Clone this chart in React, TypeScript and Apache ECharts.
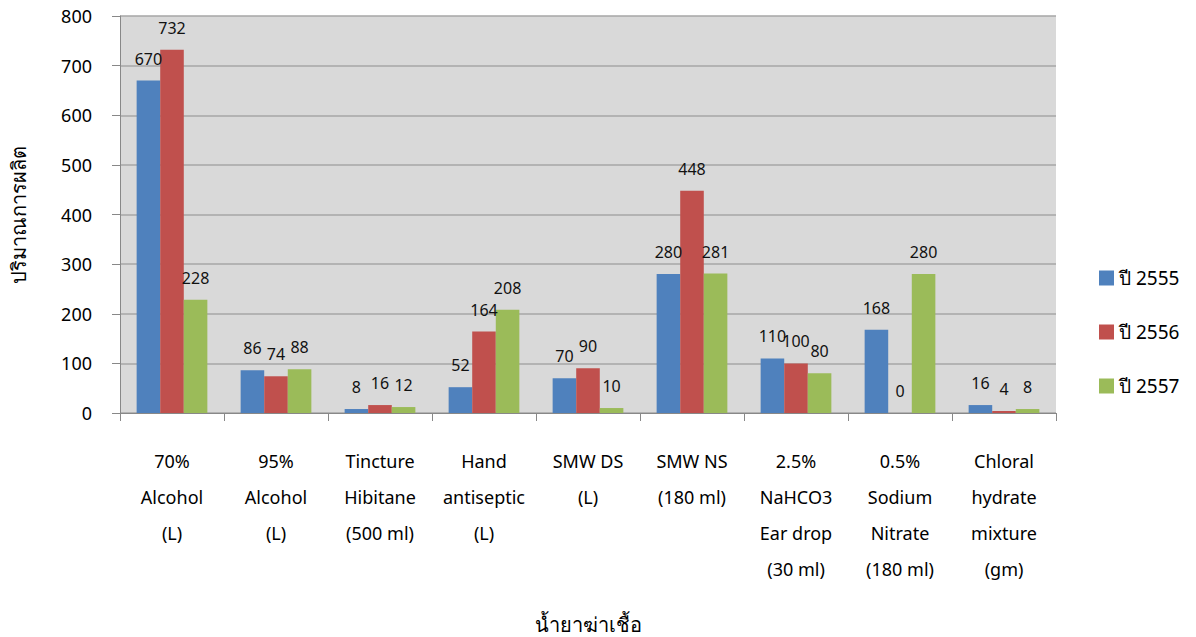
import React, { useEffect, useRef } from "react";
import * as echarts from "echarts";

const categories = [
  "70%\nAlcohol\n(L)",
  "95%\nAlcohol\n(L)",
  "Tincture\nHibitane\n(500 ml)",
  "Hand\nantiseptic\n(L)",
  "SMW DS\n(L)",
  "SMW NS\n(180 ml)",
  "2.5%\nNaHCO3\nEar drop\n(30 ml)",
  "0.5%\nSodium\nNitrate\n(180 ml)",
  "Chloral\nhydrate\nmixture\n(gm)",
];
const seriesNames = ["ปี 2555", "ปี 2556", "ปี 2557"];
const y2555 = [670, 86, 8, 52, 70, 280, 110, 168, 16];
const y2556 = [732, 74, 16, 164, 90, 448, 100, 0, 4];
const y2557 = [228, 88, 12, 208, 10, 281, 80, 280, 8];
const colors = ["#4F81BD", "#C0504D", "#9BBB59"];
const yTicks = [0, 800, 100];

const FONT = "'Noto Sans', 'DejaVu Sans', sans-serif";

export default function App() {
  const ref = useRef<HTMLDivElement>(null);
  useEffect(() => {
    if (!ref.current) return;
    const chart = echarts.init(ref.current, undefined, { renderer: "svg" });
    const data = [y2555, y2556, y2557];
    chart.setOption({
      animation: false,
      textStyle: { fontFamily: FONT },
      grid: {
        left: 120,
        right: 140,
        top: 16,
        bottom: 224,
        outerBoundsMode: "none",
        containLabel: false,
        show: true,
        backgroundColor: "#D9D9D9",
        borderWidth: 0,
      },
      legend: {
        orient: "vertical",
        left: 1094,
        top: 263,
        itemWidth: 15,
        itemHeight: 15,
        itemGap: 34,
        icon: "rect",
        textStyle: { fontSize: 19, color: "#000", fontFamily: FONT, lineHeight: 20 },
        data: seriesNames,
      },
      xAxis: {
        type: "category",
        data: categories,
        name: "น้ำยาฆ่าเชื้อ",
        nameLocation: "middle",
        nameGap: 201,
        nameTextStyle: { fontSize: 20, color: "#000", fontFamily: FONT },
        axisLine: { lineStyle: { color: "#888", width: 1 } },
        axisTick: { show: true, length: 8, lineStyle: { color: "#888" } },
        axisLabel: { color: "#000", fontSize: 18, lineHeight: 36, margin: 30, interval: 0, fontFamily: FONT },
      },
      yAxis: {
        type: "value",
        min: yTicks[0],
        max: yTicks[1],
        interval: yTicks[2],
        name: "ปริมาณการผลิต",
        nameLocation: "middle",
        nameGap: 92,
        nameTextStyle: { fontSize: 20, color: "#000", fontFamily: FONT },
        axisLine: { show: true, lineStyle: { color: "#888" } },
        axisTick: { show: true, length: 8, lineStyle: { color: "#888" } },
        axisLabel: { color: "#000", fontSize: 18, margin: 28, fontFamily: FONT },
        splitLine: { lineStyle: { color: "#A6A6A6", width: 1.5 } },
      },
      series: seriesNames.map((name, i) => ({
        name,
        type: "bar",
        data: data[i],
        barGap: "0%",
        barCategoryGap: "32%",
        itemStyle: { color: colors[i] },
        label: { show: true, position: "top", distance: 14, fontSize: 16, color: "#111", fontFamily: FONT },
      })),
    });
    return () => chart.dispose();
  }, []);
  return <div ref={ref} style={{ position: "absolute", left: 0, top: 0, width: 1196, height: 637 }} />;
}
